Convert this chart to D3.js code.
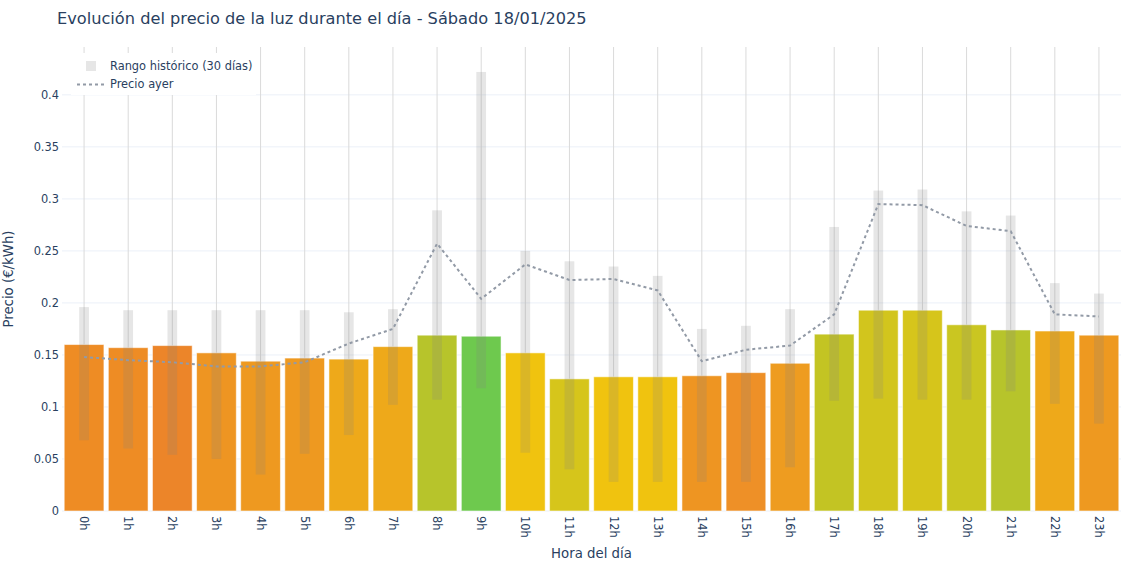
<!DOCTYPE html>
<html>
<head>
<meta charset="utf-8">
<script src="https://cdn.jsdelivr.net/npm/d3@7"></script>
<style>
  body { margin: 0; background: #fff; }
  text { font-family: "DejaVu Sans", sans-serif; fill: #2a3f5f; }
</style>
</head>
<body>
<svg id="chart" width="1140" height="570"></svg>
<script>
// Datos
const horas = ["0h","1h","2h","3h","4h","5h","6h","7h","8h","9h","10h","11h",
               "12h","13h","14h","15h","16h","17h","18h","19h","20h","21h","22h","23h"];

const precioHoy = [0.160, 0.157, 0.159, 0.152, 0.144, 0.147, 0.146, 0.158, 0.169, 0.168, 0.152, 0.127,
                   0.129, 0.129, 0.130, 0.133, 0.142, 0.170, 0.193, 0.193, 0.179, 0.174, 0.173, 0.169];

const precioAyer = [0.148, 0.145, 0.143, 0.139, 0.139, 0.143, 0.161, 0.175, 0.257, 0.204, 0.237, 0.222,
                    0.223, 0.212, 0.144, 0.155, 0.159, 0.189, 0.295, 0.294, 0.274, 0.269, 0.189, 0.187];

const histMin = [0.068, 0.060, 0.054, 0.050, 0.035, 0.055, 0.073, 0.102, 0.107, 0.118, 0.056, 0.040,
                 0.028, 0.028, 0.028, 0.028, 0.042, 0.106, 0.108, 0.107, 0.107, 0.115, 0.103, 0.084];

const histMax = [0.196, 0.193, 0.193, 0.193, 0.193, 0.193, 0.191, 0.194, 0.289, 0.422, 0.250, 0.240,
                 0.235, 0.226, 0.175, 0.178, 0.194, 0.273, 0.308, 0.309, 0.288, 0.284, 0.219, 0.209];

const coloresBarras = ["#EE8C24","#EE8C24","#EC8529","#EE9522","#EE9920","#EE9920","#EEA91A","#EEA91A",
                       "#B7C42B","#6EC94E","#F0C30F","#D6C51B","#F0C30F","#F0C30F","#EE9522","#EE9027",
                       "#EE9C20","#C3C423","#D2C51D","#D6C51B","#CAC621","#B7C42B","#EEA91A","#EE9920"];

const yTicks = [0, 0.05, 0.1, 0.15, 0.2, 0.25, 0.3, 0.35, 0.4];

const svg = d3.select("#chart");
const margin = { top: 47, right: 19, bottom: 59, left: 62 };
const width = +svg.attr("width") - margin.left - margin.right;
const height = +svg.attr("height") - margin.top - margin.bottom;

const g = svg.append("g").attr("transform", `translate(${margin.left},${margin.top})`);

const x = d3.scaleBand().domain(horas).range([0, width]).paddingInner(0.1).paddingOuter(0.05);
const y = d3.scaleLinear().domain([0, 0.446]).range([height, 0]);

// rejilla horizontal
g.append("g")
  .selectAll("line")
  .data(yTicks)
  .join("line")
    .attr("x1", 0).attr("x2", width)
    .attr("y1", d => y(d)).attr("y2", d => y(d))
    .style("stroke", "#EBF0F8")
    .style("stroke-width", 1);

// rejilla vertical
g.append("g")
  .selectAll("line")
  .data(horas)
  .join("line")
    .attr("x1", d => x(d) + x.bandwidth() / 2).attr("x2", d => x(d) + x.bandwidth() / 2)
    .attr("y1", 0).attr("y2", height)
    .style("stroke", "#dadada")
    .style("stroke-width", 1);

// barras precio del día
g.append("g")
  .selectAll("rect")
  .data(precioHoy)
  .join("rect")
    .attr("x", (d, i) => x(horas[i]))
    .attr("width", x.bandwidth())
    .attr("y", d => y(d))
    .attr("height", d => y(0) - y(d))
    .style("fill", (d, i) => coloresBarras[i])
    .style("stroke", "rgba(255,255,255,0.55)")
    .style("stroke-width", 1);

// rango histórico
const anchoRango = x.step() * 0.22;
g.append("g")
  .selectAll("rect")
  .data(histMax)
  .join("rect")
    .attr("x", (d, i) => x(horas[i]) + x.bandwidth() / 2 - anchoRango / 2)
    .attr("width", anchoRango)
    .attr("y", d => y(d))
    .attr("height", (d, i) => y(histMin[i]) - y(d))
    .style("fill", "rgba(128,128,128,0.2)");

// línea precio ayer
const linea = d3.line()
  .x((d, i) => x(horas[i]) + x.bandwidth() / 2)
  .y(d => y(d));

g.append("path")
  .datum(precioAyer)
  .attr("d", linea)
  .style("fill", "none")
  .style("stroke", "#929aa6")
  .style("stroke-width", 2)
  .style("stroke-dasharray", "3,3");

// ejes
const yAxis = g.append("g")
  .call(d3.axisLeft(y).tickValues(yTicks).tickSize(0).tickPadding(3)
    .tickFormat(d => String(+d.toFixed(2))));
yAxis.select(".domain").remove();
yAxis.selectAll("text").style("font-size", "11.4px").style("fill", "#2a3f5f");

const xAxis = g.append("g")
  .attr("transform", `translate(0,${height})`)
  .call(d3.axisBottom(x).tickSize(0));
xAxis.select(".domain").remove();
xAxis.selectAll("text")
  .style("font-size", "11.4px")
  .style("fill", "#2a3f5f")
  .attr("text-anchor", "start")
  .attr("dy", null)
  .attr("y", 0)
  .attr("transform", "translate(0,5) rotate(90)")
  .attr("dominant-baseline", "central");

// títulos
svg.append("text")
  .attr("x", 57).attr("y", 24)
  .style("font-size", "16.2px")
  .text("Evolución del precio de la luz durante el día - Sábado 18/01/2025");

svg.append("text")
  .attr("x", margin.left + width / 2).attr("y", 558)
  .attr("text-anchor", "middle")
  .style("font-size", "13.3px")
  .text("Hora del día");

svg.append("text")
  .attr("transform", `translate(13,${margin.top + height / 2}) rotate(-90)`)
  .attr("text-anchor", "middle")
  .style("font-size", "13.3px")
  .text("Precio (€/kWh)");

// leyenda
const leyenda = svg.append("g");
leyenda.append("rect")
  .attr("x", 71).attr("y", 53).attr("width", 185).attr("height", 42)
  .style("fill", "#fff");
leyenda.append("rect")
  .attr("x", 86).attr("y", 61).attr("width", 10).attr("height", 10)
  .style("fill", "rgba(128,128,128,0.2)");
leyenda.append("text")
  .attr("x", 110).attr("y", 70)
  .style("font-size", "11.4px")
  .text("Rango histórico (30 días)");
leyenda.append("line")
  .attr("x1", 77).attr("x2", 104).attr("y1", 84.5).attr("y2", 84.5)
  .style("stroke", "#929aa6")
  .style("stroke-width", 2)
  .style("stroke-dasharray", "3,3");
leyenda.append("text")
  .attr("x", 110).attr("y", 88)
  .style("font-size", "11.4px")
  .text("Precio ayer");
</script>
</body>
</html>
